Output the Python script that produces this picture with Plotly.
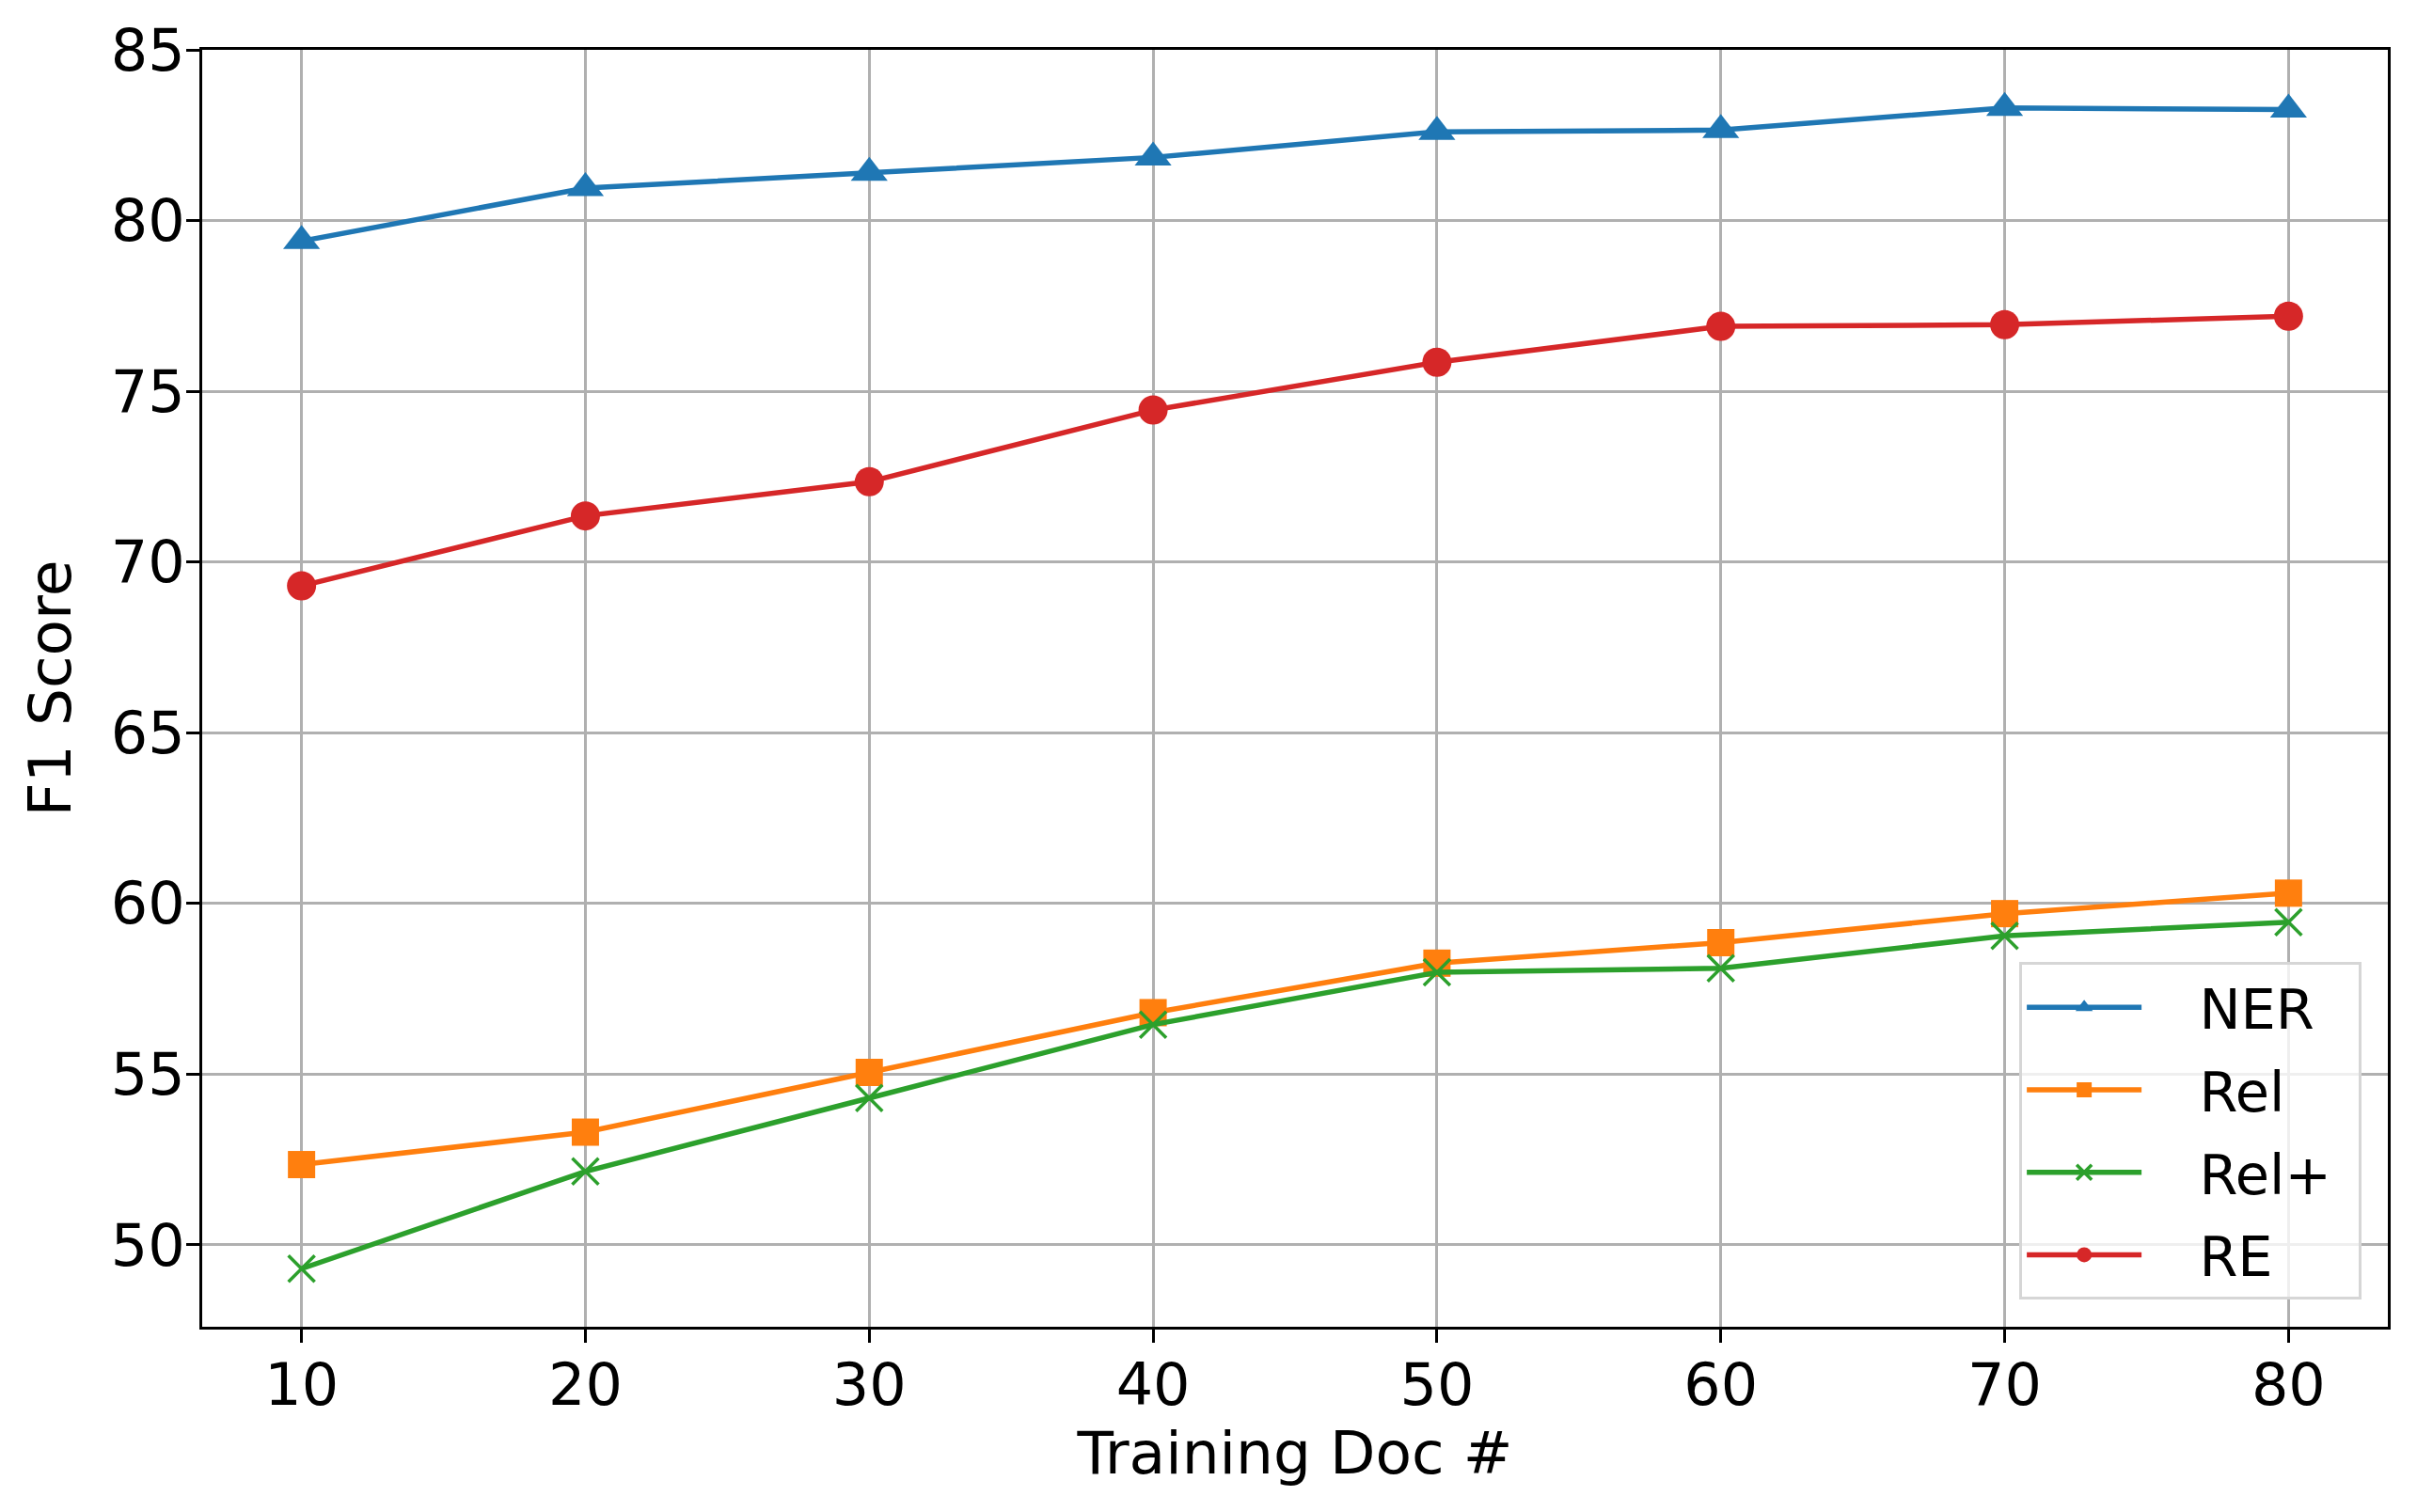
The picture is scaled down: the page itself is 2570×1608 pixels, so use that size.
import plotly.graph_objects as go

docs = [10, 20, 30, 40, 50, 60, 70, 80]
ner = [79.4, 80.95, 81.4, 81.85, 82.6, 82.65, 83.3, 83.25]
rel = [52.35, 53.3, 55.05, 56.8, 58.25, 58.85, 59.7, 60.3]
rel_plus = [49.3, 52.15, 54.3, 56.45, 57.98, 58.1, 59.05, 59.45]
re_scores = [69.3, 71.35, 72.35, 74.45, 75.85, 76.9, 76.95, 77.2]

series = [
    ("NER", ner, "#1f77b4", "triangle-up", 34),
    ("Rel", rel, "#ff7f0e", "square", 29),
    ("Rel+", rel_plus, "#2ca02c", "x-thin", 28),
    ("RE", re_scores, "#d62728", "circle", 31),
]

FONT = "DejaVu Sans"
NBSP = "\u00a0"

fig = go.Figure()
for name, values, color, symbol, size in series:
    marker = {"symbol": symbol, "size": size, "color": color}
    if symbol == "x-thin":
        marker["line"] = {"color": color, "width": 3.5}
    fig.add_trace(
        go.Scatter(
            x=docs,
            y=values,
            name=NBSP * 3 + name + "\u2009\u2009",
            legendgroup=name,
            mode="lines+markers",
            line={"color": color, "width": 5.5},
            marker=marker,
        )
    )

axis_style = dict(
    showline=True,
    linecolor="black",
    linewidth=3,
    mirror=True,
    ticks="outside",
    ticklen=14,
    tickwidth=3,
    tickcolor="black",
    showgrid=True,
    gridcolor="#b0b0b0",
    gridwidth=3,
    zeroline=False,
    automargin=False,
    tickfont={"family": FONT, "size": 62, "color": "black"},
)

fig.update_xaxes(
    range=[6.5, 83.5],
    tickvals=docs,
    title={"text": "Training Doc #", "font": {"family": FONT, "size": 63, "color": "black"}, "standoff": 13},
    ticklabelstandoff=-8,
    **axis_style,
)
fig.update_yaxes(
    range=[47.6, 85.0],
    tickvals=[50, 55, 60, 65, 70, 75, 80, 85],
    title={"text": "F1 Score", "font": {"family": FONT, "size": 63, "color": "black"}, "standoff": 22},
    ticklabelstandoff=-11,
    **axis_style,
)

# the page body adds an 8px offset, so margins are shifted to compensate
fig.update_layout(
    width=2570,
    height=1608,
    margin={"l": 207, "r": 39, "t": 45, "b": 205},
    paper_bgcolor="white",
    plot_bgcolor="white",
    font={"family": FONT, "color": "black"},
    legend={
        "x": 0.988,
        "y": 0.021,
        "xanchor": "right",
        "yanchor": "bottom",
        "bgcolor": "rgba(255,255,255,0.8)",
        "bordercolor": "#d6d6d6",
        "borderwidth": 3,
        "font": {"family": FONT, "size": 59, "color": "black"},
        "itemwidth": 122,
        "tracegroupgap": 8,
    },
)

fig.write_html("out.html")
